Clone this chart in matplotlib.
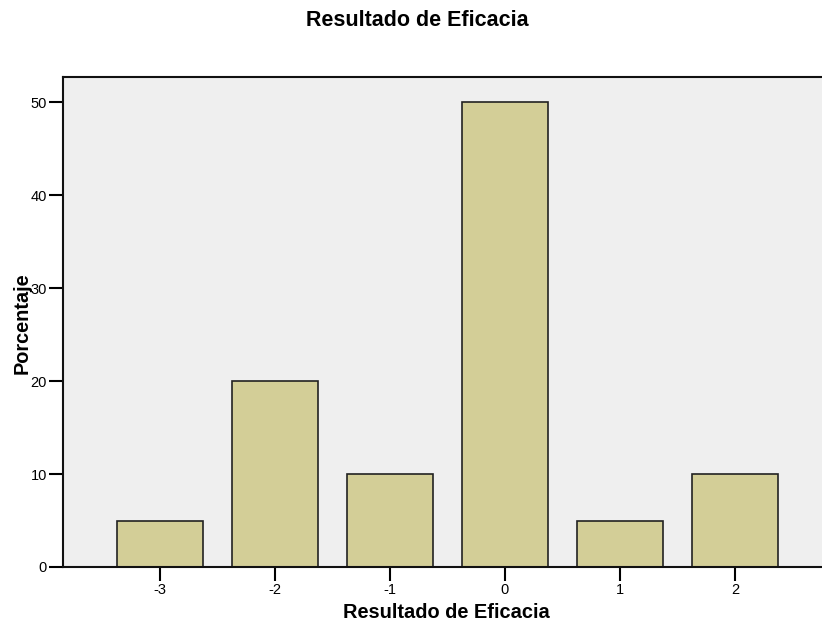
import numpy as np
import matplotlib
matplotlib.use('Agg')
import matplotlib.pyplot as plt

categorias = ['-3', '-2', '-1', '0', '1', '2']
porcentaje = [5, 20, 10, 50, 5, 10]

plt.rcParams['font.family'] = ['Liberation Sans', 'DejaVu Sans']

fig = plt.figure(figsize=(8.22, 6.26), dpi=100)
ax = fig.add_axes([63 / 822, 59 / 626, 1 - 63 / 822, (567 - 77) / 626])
ax.set_facecolor('#efefef')

x = np.arange(len(categorias))
ax.bar(x, porcentaje, width=0.75, color='#d3ce97', edgecolor='#222222', linewidth=1.2, zorder=2)

ax.set_xlim(-0.843, 5.757)
ax.set_ylim(0, 52.7)
ax.set_xticks(x)
ax.set_xticklabels(categorias)
ax.set_yticks([0, 10, 20, 30, 40, 50])
ax.tick_params(axis='both', length=10, width=1.5, labelsize=10.5, color='#000000', pad=1.5)

for s in ['left', 'bottom', 'top']:
    ax.spines[s].set_linewidth(1.5)
    ax.spines[s].set_color('#111111')
ax.spines['right'].set_visible(False)

fig.text(417 / 822, 1 - 20 / 626, 'Resultado de Eficacia', ha='center', va='center',
         fontsize=15.5, fontweight='bold')
fig.text(446 / 822, 1 - 612 / 626, 'Resultado de Eficacia', ha='center', va='center',
         fontsize=14.4, fontweight='bold')
fig.text(22 / 822, 1 - 323 / 626, 'Porcentaje', ha='center', va='center',
         rotation=90, fontsize=14.3, fontweight='bold')

plt.savefig('out.png', dpi=100)
